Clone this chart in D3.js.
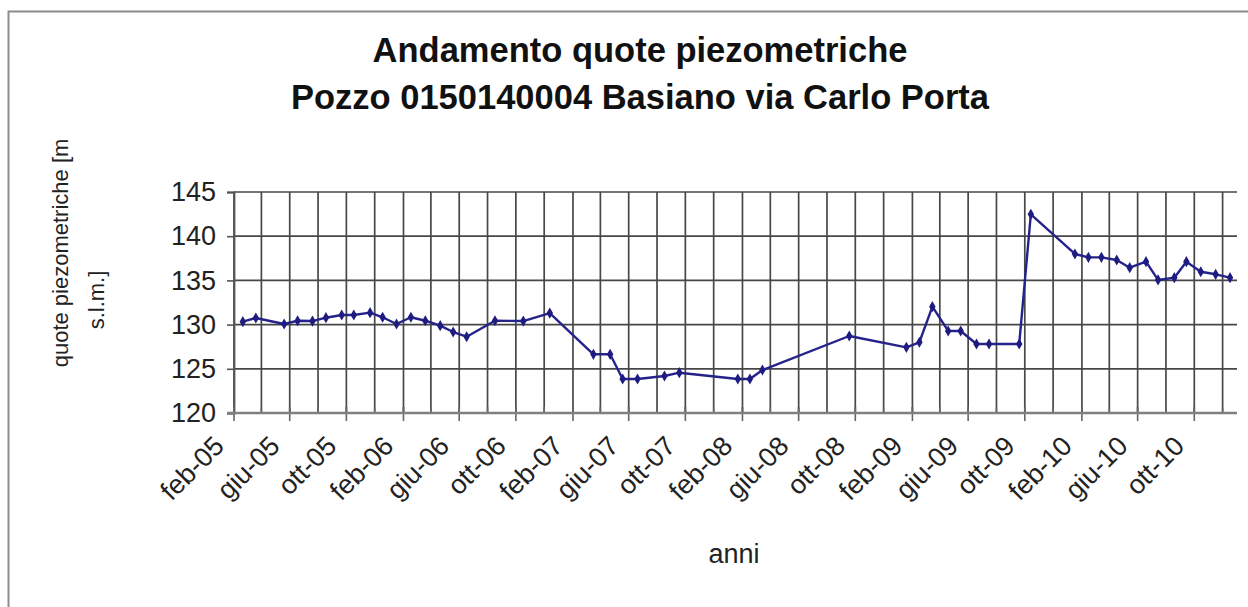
<!DOCTYPE html>
<html>
<head>
<meta charset="utf-8">
<script src="https://cdn.jsdelivr.net/npm/d3@7"></script>
<style>
  html, body { margin: 0; padding: 0; background: #fff; }
  svg { display: block; }
</style>
</head>
<body>
<svg id="chart" width="1248" height="607"></svg>
<script>
// Piezometric levels measured at the Basiano well (m a.s.l.)
const dates = [
  "2005-02-20", "2005-03-20", "2005-05-20", "2005-06-18", "2005-07-20", "2005-08-18",
  "2005-09-21", "2005-10-17", "2005-11-21", "2005-12-18", "2006-01-17", "2006-02-17",
  "2006-03-20", "2006-04-21", "2006-05-19", "2006-06-17", "2006-08-17", "2006-10-17",
  "2006-12-13", "2007-03-17", "2007-04-22", "2007-05-19", "2007-06-20", "2007-08-17",
  "2007-09-18", "2008-01-22", "2008-02-17", "2008-03-15", "2008-09-18", "2009-01-19",
  "2009-02-16", "2009-03-16", "2009-04-19", "2009-05-16", "2009-06-19", "2009-07-16",
  "2009-09-19", "2009-10-14", "2010-01-17", "2010-02-15", "2010-03-15", "2010-04-17",
  "2010-05-15", "2010-06-19", "2010-07-15", "2010-08-19", "2010-09-14", "2010-10-15",
  "2010-11-16", "2010-12-17"
];
const levels = [
  130.33, 130.75, 130.07, 130.44, 130.40, 130.78,
  131.09, 131.09, 131.35, 130.83, 130.07, 130.83,
  130.44, 129.88, 129.16, 128.63, 130.44, 130.40,
  131.30, 126.64, 126.64, 123.85, 123.85, 124.19,
  124.56, 123.85, 123.85, 124.86, 128.71, 127.43,
  128.00, 132.03, 129.28, 129.28, 127.81, 127.81,
  127.81, 142.48, 137.99, 137.61, 137.61, 137.31,
  136.44, 137.12, 135.05, 135.31, 137.12, 135.98,
  135.69, 135.31
];

const xTickLabels = [
  "feb-05", "giu-05", "ott-05", "feb-06", "giu-06", "ott-06",
  "feb-07", "giu-07", "ott-07", "feb-08", "giu-08", "ott-08",
  "feb-09", "giu-09", "ott-09", "feb-10", "giu-10", "ott-10"
];
const yTicks = [120, 125, 130, 135, 140, 145];
const monthNames = ["gen", "feb", "mar", "apr", "mag", "giu", "lug", "ago", "set", "ott", "nov", "dic"];

const titleLines = ["Andamento quote piezometriche", "Pozzo 0150140004 Basiano via Carlo Porta"];
const yTitleLines = ["quote piezometriche [m", "s.l.m.]"];
const xTitle = "anni";

const parseDate = d3.timeParse("%Y-%m-%d");
const labelDate = s => {
  const [m, y] = s.split("-");
  return new Date(2000 + (+y), monthNames.indexOf(m), 1);
};

const series = dates.map((d, i) => ({ date: parseDate(d), value: levels[i] }));

const plot = { left: 234, right: 1237, top: 192, bottom: 413 };
const font = "'Liberation Sans', Arial, sans-serif";

const x = d3.scaleTime()
  .domain([new Date(2005, 1, 1), new Date(2011, 0, 1)])
  .range([plot.left, plot.right]);
const y = d3.scaleLinear()
  .domain([120, 145])
  .range([plot.bottom, plot.top]);

const svg = d3.select("#chart");

// outer chart frame
svg.append("rect")
  .attr("x", 8.5).attr("y", 11.5)
  .attr("width", 1300).attr("height", 700)
  .attr("fill", "#fff")
  .attr("stroke", "#8c8c8c").attr("stroke-width", 2);

// title
svg.append("g").selectAll("text").data(titleLines).join("text")
  .attr("x", 640).attr("y", (d, i) => 62 + i * 47)
  .attr("text-anchor", "middle")
  .attr("font-family", font).attr("font-weight", "bold")
  .attr("font-size", 34.5).attr("fill", "#111")
  .text(d => d);

// vertical grid lines every two months
const gridMonths = d3.timeMonth.range(new Date(2005, 1, 1), new Date(2011, 0, 1), 2);
const majorDates = xTickLabels.map(labelDate);

svg.append("g").selectAll("line").data(gridMonths).join("line")
  .attr("x1", d => x(d)).attr("x2", d => x(d))
  .attr("y1", plot.top).attr("y2", plot.bottom)
  .attr("stroke", "#474747").attr("stroke-width", 1.7);

// horizontal grid lines
svg.append("g").selectAll("line").data(yTicks).join("line")
  .attr("x1", plot.left).attr("x2", plot.right)
  .attr("y1", d => y(d)).attr("y2", d => y(d))
  .attr("stroke", "#474747").attr("stroke-width", 1.7);

// y axis
const yAxis = d3.axisLeft(y).tickValues(yTicks).tickSize(7).tickPadding(11);
const gy = svg.append("g").attr("transform", `translate(${plot.left},0)`).call(yAxis);
gy.select(".domain").attr("stroke", "#555").attr("stroke-width", 1.8);
gy.selectAll(".tick line").attr("stroke", "#555").attr("stroke-width", 1.6);
gy.selectAll(".tick text")
  .attr("font-family", font).attr("font-size", 27).attr("fill", "#222");

// x axis: major ticks crossing the axis, minor ticks inside
const gx = svg.append("g");
gx.append("g").selectAll("line").data(gridMonths).join("line")
  .attr("x1", d => x(d)).attr("x2", d => x(d))
  .attr("y1", plot.bottom - 6).attr("y2", plot.bottom)
  .attr("stroke", "#666").attr("stroke-width", 1.6);
gx.append("g").selectAll("line").data(majorDates).join("line")
  .attr("x1", d => x(d)).attr("x2", d => x(d))
  .attr("y1", plot.bottom - 6).attr("y2", plot.bottom + 8)
  .attr("stroke", "#666").attr("stroke-width", 1.6);
gx.append("line")
  .attr("x1", plot.left - 7).attr("x2", plot.right)
  .attr("y1", plot.bottom).attr("y2", plot.bottom)
  .attr("stroke", "#808080").attr("stroke-width", 2.4);

gx.append("g").selectAll("text").data(xTickLabels).join("text")
  .attr("transform", d => `translate(${x(labelDate(d)) - 15},441) rotate(-45)`)
  .attr("text-anchor", "end").attr("dy", "0.35em")
  .attr("font-family", font).attr("font-size", 27).attr("fill", "#222")
  .text(d => d);

// axis titles
svg.append("g").selectAll("text").data(yTitleLines).join("text")
  .attr("transform", (d, i) => i === 0 ? "translate(68,253) rotate(-90)" : "translate(104,300) rotate(-90)")
  .attr("text-anchor", "middle")
  .attr("font-family", font).attr("font-size", 22).attr("fill", "#222")
  .text(d => d);

svg.append("text")
  .attr("x", 734).attr("y", 563)
  .attr("text-anchor", "middle")
  .attr("font-family", font).attr("font-size", 27).attr("fill", "#222")
  .text(xTitle);

// data line with diamond markers
const line = d3.line().x(d => x(d.date)).y(d => y(d.value));
svg.append("path").datum(series)
  .attr("d", line)
  .attr("fill", "none")
  .attr("stroke", "#25238a").attr("stroke-width", 2.4)
  .attr("stroke-linejoin", "round");

svg.append("g").selectAll("path").data(series).join("path")
  .attr("d", d3.symbol().type(d3.symbolDiamond).size(36))
  .attr("transform", d => `translate(${x(d.date)},${y(d.value)})`)
  .attr("fill", "#1e1c80");
</script>
</body>
</html>
